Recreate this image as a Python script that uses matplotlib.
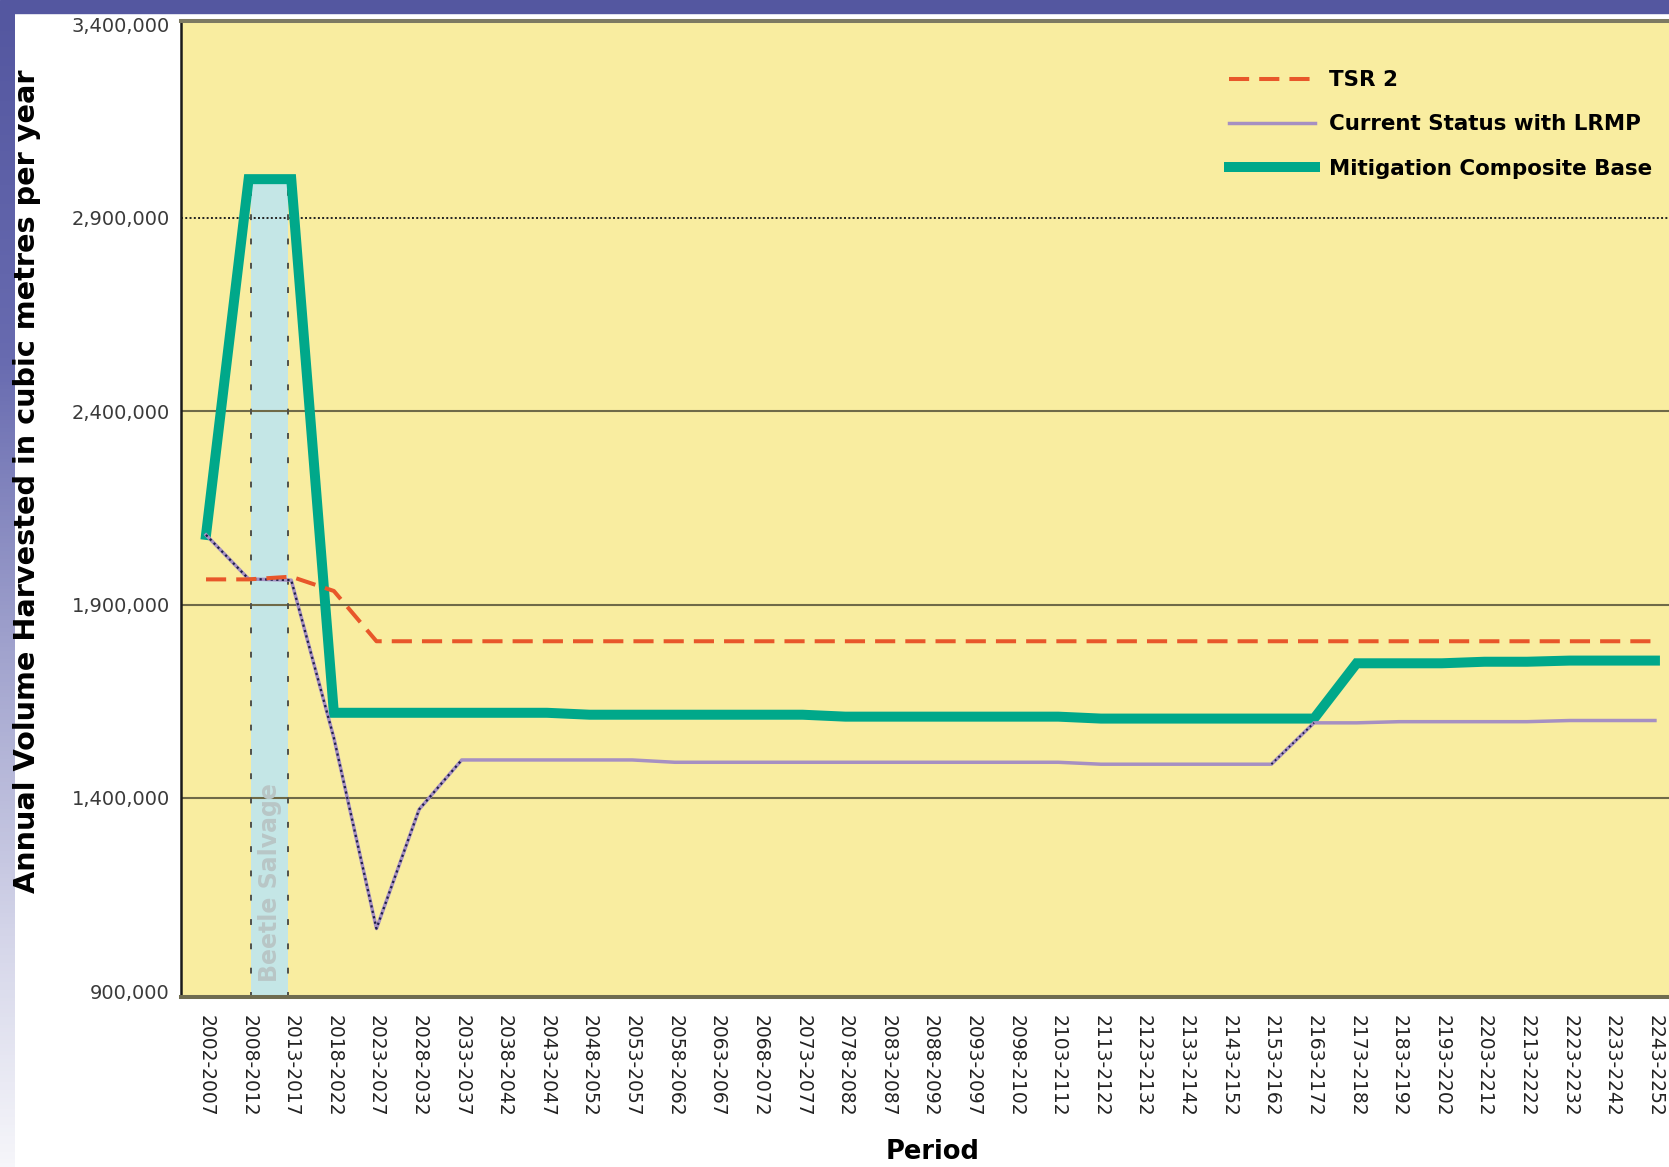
import numpy as np
import matplotlib
matplotlib.use("Agg")
import matplotlib.pyplot as plt
from matplotlib.patches import Rectangle

# periods on the x axis
periods = ["2002-2007", "2008-2012", "2013-2017", "2018-2022", "2023-2027",
           "2028-2032", "2033-2037", "2038-2042", "2043-2047", "2048-2052",
           "2053-2057", "2058-2062", "2063-2067", "2068-2072", "2073-2077",
           "2078-2082", "2083-2087", "2088-2092", "2093-2097", "2098-2102",
           "2103-2112", "2113-2122", "2123-2132", "2133-2142", "2143-2152",
           "2153-2162", "2163-2172", "2173-2182", "2183-2192", "2193-2202",
           "2203-2212", "2213-2222", "2223-2232", "2233-2242", "2243-2252"]

# annual volume harvested, m3 per year
tsr2 = [1965000, 1965000, 1972000, 1935000, 1805000, 1805000, 1805000,
        1805000, 1805000, 1805000, 1805000, 1805000, 1805000, 1805000,
        1805000, 1805000, 1805000, 1805000, 1805000, 1805000, 1805000,
        1805000, 1805000, 1805000, 1805000, 1805000, 1805000, 1805000,
        1805000, 1805000, 1805000, 1805000, 1805000, 1805000, 1805000]

current_lrmp = [2080000, 1966000, 1963000, 1555000, 1062000, 1370000, 1498000,
                1498000, 1498000, 1498000, 1498000, 1492000, 1492000, 1492000,
                1492000, 1492000, 1492000, 1492000, 1492000, 1492000, 1492000,
                1487000, 1487000, 1487000, 1487000, 1487000, 1594000, 1594000,
                1597000, 1597000, 1597000, 1597000, 1600000, 1600000, 1600000]

mitigation = [2080000, 3000000, 3000000, 1620000, 1620000, 1620000, 1620000,
              1620000, 1620000, 1615000, 1615000, 1615000, 1615000, 1615000,
              1615000, 1610000, 1610000, 1610000, 1610000, 1610000, 1610000,
              1605000, 1605000, 1605000, 1605000, 1605000, 1605000, 1748000,
              1748000, 1748000, 1752000, 1752000, 1755000, 1755000, 1755000]

y_ticks = [900000, 1400000, 1900000, 2400000, 2900000, 3400000]
salvage = ("2008-2012", "2013-2017")   # beetle salvage band
labels = ["TSR 2", "Current Status with LRMP", "Mitigation Composite Base"]

W, H = 1669, 1167
fig = plt.figure(figsize=(W / 100, H / 100), dpi=100)
fig.patch.set_facecolor("white")

# slide decoration: blue bar on top, fading strip on the left
fig.add_artist(Rectangle((0, 1 - 13 / H), 1, 13 / H, transform=fig.transFigure,
                         color="#5457a0", zorder=0))
strip = fig.add_axes([0, 0, 14 / W, 1 - 12 / H])
pos = np.linspace(0, 1, 300)
stops = [0, 0.3, 0.55, 0.8, 1.0]
grad = np.stack([np.interp(pos, stops, [84, 104, 160, 212, 246]),
                 np.interp(pos, stops, [87, 107, 162, 213, 246]),
                 np.interp(pos, stops, [160, 176, 205, 233, 250])], axis=1) / 255
strip.imshow(grad[:, None, :], aspect="auto")
strip.axis("off")

ax = fig.add_axes([181 / W, (H - 997) / H, (W - 181) / W, (997 - 21) / H])
ax.set_facecolor("#f9eda0")
x = np.arange(len(periods))

# beetle salvage band
b0 = periods.index(salvage[0]) + 0.05
b1 = periods.index(salvage[1]) - 0.07
ax.fill_between([b0, b1], 0, max(mitigation), color="#c4e6e6", zorder=1, lw=0)
for bx in (b0, b1):
    ax.plot([bx, bx], [0, max(mitigation)], color="#50504a", lw=1.4,
            ls=(0, (3, 9.5)), zorder=1.5)
ax.text((b0 + b1) / 2, 1180000, "Beetle Salvage", rotation=90, ha="center",
        va="center", fontsize=17, fontweight="bold", color="#b8c6c6", zorder=1.6)

# gridlines
for yt in y_ticks[1:-1]:
    if yt == 2900000:
        ax.axhline(yt, color="#222222", lw=1.4, ls=(0, (1, 1.2)), zorder=1.2)
    else:
        ax.axhline(yt, color="#6f6a48", lw=1.5, zorder=1.2)

l_green, = ax.plot(x, mitigation, color="#00a88a", lw=7.2, zorder=3,
                   solid_joinstyle="miter")
l_purple, = ax.plot(x, current_lrmp, color="#a690c2", lw=2.5, zorder=4)
# dark dotted overlay on the changing parts of the current status line
ax.plot(x[:7], current_lrmp[:7], color="#1e1e48", lw=1.6, ls=(0, (1, 1.5)), zorder=4.2)
ax.plot(x[25:27], current_lrmp[25:27], color="#1e1e48", lw=1.4, ls=(0, (1, 1.5)), zorder=4.2)
l_red, = ax.plot(x, tsr2, color="#e8572a", lw=2.9, ls=(0, (5, 2.5)), zorder=5)

ax.set_xlim(-0.587, 34.33)
ax.set_ylim(885000, 3409000)
ax.set_yticks(y_ticks)
ax.set_yticklabels([f"{v:,}" for v in y_ticks])
ax.set_xticks(x)
ax.set_xticklabels(periods, rotation=270)
ax.tick_params(axis="y", length=0, pad=8, labelsize=14, labelcolor="#3a3a3a")
ax.tick_params(axis="x", length=0, pad=13, labelsize=13.5, labelcolor="#222222")

ax.spines["right"].set_visible(False)
ax.spines["left"].set_color("#1a1a1a")
ax.spines["left"].set_linewidth(1.8)
ax.spines["top"].set_color("#7d7a62")
ax.spines["top"].set_linewidth(2.9)
ax.spines["bottom"].set_color("#6f6c50")
ax.spines["bottom"].set_linewidth(2.9)

ax.legend([l_red, l_purple, l_green], labels, loc="upper left",
          bbox_to_anchor=(1229 / W, 1 - 70 / H), bbox_transform=fig.transFigure,
          frameon=False, borderpad=0, borderaxespad=0, handlelength=4.03,
          handletextpad=0.66, labelspacing=1.14, prop={"weight": "bold", "size": 15.4})

fig.text(27 / W, 1 - 481 / H, "Annual Volume Harvested in cubic metres per year",
         rotation=90, ha="center", va="center", fontsize=20.7, fontweight="bold")
fig.text(933 / W, 1 - 1152 / H, "Period", ha="center", va="center",
         fontsize=18.5, fontweight="bold")

fig.savefig("out.png", dpi=100)
